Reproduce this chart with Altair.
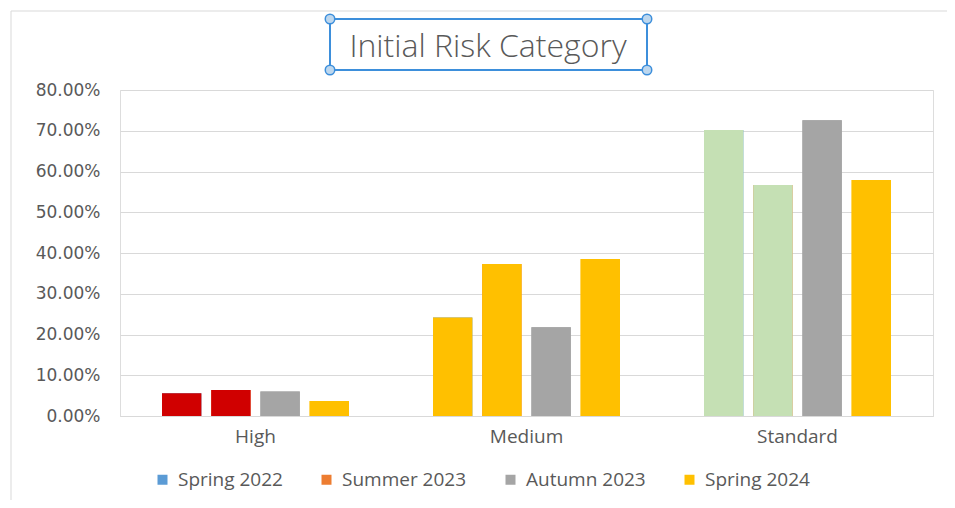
import altair as alt
import pandas as pd

categories = ["High", "Medium", "Standard"]
series = ["Spring 2022", "Summer 2023", "Autumn 2023", "Spring 2024"]
legend_colors = ["#5B9BD5", "#ED7D31", "#A5A5A5", "#FFC000"]
chart_title = "Initial Risk Category"

high_vals = [0.056, 0.064, 0.060, 0.037]
medium_vals = [0.242, 0.373, 0.218, 0.385]
standard_vals = [0.702, 0.567, 0.726, 0.579]

high_colors = ["#D00000", "#D00000", "#A5A5A5", "#FFC000"]
medium_colors = ["#FFC000", "#FFC000", "#A5A5A5", "#FFC000"]
standard_colors = ["#C5E0B4", "#C5E0B4", "#A5A5A5", "#FFC000"]

rows = []
for cat, vals, cols in zip(categories,
                           [high_vals, medium_vals, standard_vals],
                           [high_colors, medium_colors, standard_colors]):
    for s, v, c in zip(series, vals, cols):
        rows.append({"category": cat, "series": s, "value": v, "bar_color": c})
df = pd.DataFrame(rows)

TXT = "#595959"
GRID = "#D9D9D9"

x_enc = alt.X("category:N", sort=categories, title=None,
              scale=alt.Scale(paddingInner=0.31, paddingOuter=0.155),
              axis=alt.Axis(labelAngle=0, labelFont="Open Sans", labelFontSize=19,
                            labelColor=TXT, ticks=False, domainColor=GRID,
                            labelPadding=11, grid=False))
xo_enc = alt.XOffset("series:N", sort=series, scale=alt.Scale(paddingInner=0.2))
y_enc = alt.Y("value:Q", title=None,
              scale=alt.Scale(domain=[0, 0.8], nice=False),
              axis=alt.Axis(format=".2%", values=[i / 10 for i in range(9)],
                            labelFont="DejaVu Sans", labelFontSize=17, labelColor=TXT,
                            ticks=False, domain=False, gridColor=GRID,
                            labelPadding=20))

legend_bars = alt.Chart(df).mark_bar().encode(
    x=x_enc, xOffset=xo_enc, y=y_enc,
    color=alt.Color("series:N", sort=series,
                    scale=alt.Scale(domain=series, range=legend_colors),
                    legend=alt.Legend(title=None, orient="none", direction="horizontal",
                                      legendX=33, legendY=380, symbolType="square",
                                      symbolSize=100, symbolStrokeWidth=0,
                                      labelFont="Open Sans", labelFontSize=19,
                                      labelColor=TXT, columnPadding=34, padding=0,
                                      symbolOffset=0, labelOffset=6)),
)

bars = alt.Chart(df).mark_bar().encode(
    x=alt.X("category:N", sort=categories),
    xOffset=alt.XOffset("series:N", sort=series),
    y=alt.Y("value:Q"),
    fill=alt.Fill("bar_color:N", scale=None),
)

one = pd.DataFrame({"a": [0]})
border_top = alt.Chart(one).mark_rule(color="#D9D9D9", strokeWidth=1).encode(
    x=alt.value(-109), x2=alt.value(827), y=alt.value(-79))
border_left = alt.Chart(one).mark_rule(color="#D9D9D9", strokeWidth=1).encode(
    x=alt.value(-109), y=alt.value(-79), y2=alt.value(410))

title_text = alt.Chart(one).mark_text(
    font="Open Sans", fontSize=32, fontWeight=300, color=TXT, align="center",
    baseline="alphabetic").encode(
    text=alt.value(chart_title), x=alt.value(368), y=alt.value(-33))

sel_box = alt.Chart(one).mark_rect(fillOpacity=0, stroke="#3D8FDB", strokeWidth=2).encode(
    x=alt.value(210), x2=alt.value(527), y=alt.value(-71), y2=alt.value(-20))
handles = []
for hx in (210, 527):
    for hy in (-71, -20):
        handles.append(alt.Chart(one).mark_point(
            shape="circle", size=90, filled=True, fill="#BDD7EE", stroke="#3D8FDB",
            strokeWidth=1.5, opacity=1).encode(x=alt.value(hx), y=alt.value(hy)))

chart = alt.layer(legend_bars, bars, border_top, border_left, title_text, sel_box,
                  *handles).properties(
    width=813, height=326,
    autosize=alt.AutoSizeParams(type="none"),
    padding={"left": 112, "top": 82, "right": 14, "bottom": 84},
).configure_view(stroke="transparent", strokeWidth=0).configure(background="white")

chart.save("out.html", embed_options={"renderer": "svg", "actions": False})
